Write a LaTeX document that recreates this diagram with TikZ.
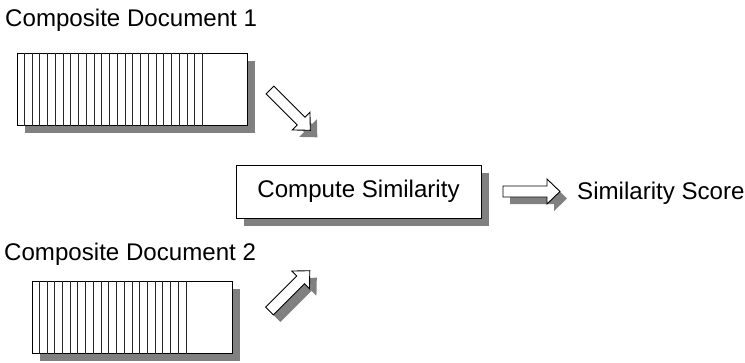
\documentclass[tikz,border=0pt]{standalone}
\usepackage{fontspec}
\setmainfont{Liberation Sans}
\usetikzlibrary{shadows}
\definecolor{shadowgray}{RGB}{128,128,128}
\newcommand\arrshape[1]{#1 (0,-5.5) -- (44,-5.5) -- (44,-12.5) -- (57,0) -- (44,12.5) -- (44,5.5) -- (0,5.5) -- cycle;}
\newcommand\blockarr[2]{%
  \begin{scope}[shift={#1}]
    \begin{scope}[shift={(7,7)},rotate=#2]
      \arrshape{\fill[shadowgray]}
    \end{scope}
    \begin{scope}[rotate=#2]
      \arrshape{\filldraw[fill=white,draw=black,line width=0.9pt,line join=miter]}
    \end{scope}
  \end{scope}}
\tikzset{
  txt/.style={font=\fontsize{24.1}{28}\selectfont, inner sep=0pt},
  shbox/.style={draw=black, fill=white, line width=1pt, inner sep=0pt,
    drop shadow={shadow xshift=7.5pt, shadow yshift=-7.5pt, fill=shadowgray, opacity=1}},
  stripe/.style={line width=0.85pt, black!85}
}
\begin{document}
\begin{tikzpicture}[x=1pt,y=-1pt]
\useasboundingbox (0,0) rectangle (745,362);
% labels
\node[txt, anchor=base west] (lab1) at (5,26) {Composite Document 1};
\node[txt, anchor=base west] (lab2) at (4,260) {Composite Document 2};
% document 1
\node[shbox, minimum width=230pt, minimum height=72pt] (doc1) at (132,89) {};
\foreach \k in {1,...,24}
  \draw[stripe] ([xshift=\k*7.75pt]doc1.north west) -- ([xshift=\k*7.75pt]doc1.south west);
% document 2
\node[shbox, minimum width=200pt, minimum height=72pt] (doc2) at (132,317) {};
\foreach \k in {1,...,20}
  \draw[stripe] ([xshift=\k*7.73pt]doc2.north west) -- ([xshift=\k*7.73pt]doc2.south west);
% compute box
\node[shbox, txt, draw, minimum width=245pt, minimum height=53pt] (comp) at (358.5,191.5) {Compute Similarity};
% result
\node[txt, anchor=base west] (score) at (577,199) {Similarity Score};
% block arrows
\coordinate (a1) at (270,90);
\coordinate (a2) at (269.5,311);
\coordinate (a3) at (503,191.5);
\blockarr{(a1)}{-45}
\blockarr{(a2)}{45}
\blockarr{(a3)}{0}
\end{tikzpicture}
\end{document}
